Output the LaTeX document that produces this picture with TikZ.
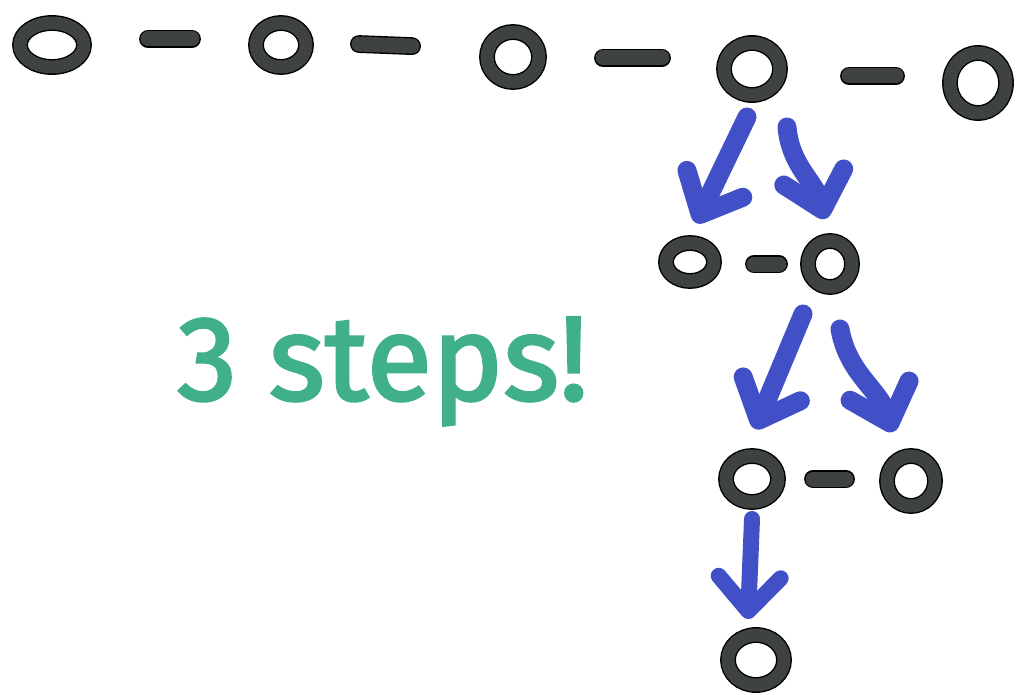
\documentclass[tikz,border=0pt]{standalone}
\usepackage{fontspec}
\newfontfamily\handfont{Fira Sans}[FakeBold=2.2]
\usetikzlibrary{arrows.meta,shapes.geometric}
\definecolor{ink}{RGB}{62,66,66}
\definecolor{marker}{RGB}{66,80,200}
\definecolor{mint}{RGB}{64,176,136}
\begin{document}
\begin{tikzpicture}[x=1pt,y=-1pt,
  ring/.style={ellipse, draw=black, line width=1.4pt, double=ink,
    double distance=13pt, inner sep=0pt, outer sep=0pt},
  link/.style={draw=black, line width=1.4pt, double=ink,
    double distance=15pt, line cap=round},
  push/.style={draw=marker, line width=19pt, line cap=round,
    -{Straight Barb[round,length=34pt,width=62pt]}},
]
\fill[white] (0,0) rectangle (1036,695);
\useasboundingbox (0,0) rectangle (1036,695);

% the full list
\node[ring, minimum width=64pt, minimum height=44pt] (r1) at (52,45) {};
\node[ring, minimum width=50pt, minimum height=44pt] (r2) at (281,45) {};
\node[ring, minimum width=52pt, minimum height=50pt] (r3) at (513,57) {};
\node[ring, minimum width=56pt, minimum height=52pt] (r4) at (752,69) {};
\node[ring, minimum width=56pt, minimum height=60pt] (r5) at (978,83) {};

% second level
\node[ring, minimum width=48pt, minimum height=38pt] (r6) at (690,262) {};
\node[ring, minimum width=44pt, minimum height=46pt] (r7) at (830,264) {};

% third level
\node[ring, minimum width=52pt, minimum height=46pt] (r8) at (752,479) {};
\node[ring, minimum width=48pt, minimum height=50pt] (r9) at (911,481) {};

% last level
\node[ring, minimum width=56pt, minimum height=50pt] (r10) at (756,660) {};

% links between neighbours
\draw[link, shorten <=64pt, shorten >=64pt] ([yshift=6pt]r1.east) -- ([yshift=6pt]r2.west);
\draw[link, shorten <=53pt, shorten >=75pt] ([yshift=3pt]r2.east) -- ([yshift=8pt]r3.west);
\draw[link, shorten <=64pt, shorten >=62pt] ([yshift=-1pt]r3.east) -- ([yshift=11pt]r4.west);
\draw[link, shorten <=69pt, shorten >=54pt] ([yshift=-7pt]r4.east) -- ([yshift=7pt]r5.west);
\draw[link, shorten <=40pt, shorten >=29pt] ([yshift=-2pt]r6.east) -- (r7.west);
\draw[link, shorten <=35pt, shorten >=41pt] (r8.east) -- ([yshift=2pt]r9.west);

% splitting arrows
\draw[push] ([shift={(-5,22)}]r4.south) -- ([shift={(6,-20)}]r6.north);
\draw[push] ([shift={(35,32)}]r4.south) to[out=-85,in=105] ([shift={(-5,-22)}]r7.north);
\draw[push] ([shift={(-27,27)}]r7.south) -- ([shift={(3,-27)}]r8.north);
\draw[push] ([shift={(10,42)}]r7.south) to[out=-80,in=108] ([shift={(-18,-24)}]r9.north);
\draw[push, line width=16pt] ([shift={(0,17)}]r8.south) -- ([shift={(-8,-16)}]r10.north);

% caption
\node[anchor=base west, text=mint, inner sep=0pt,
  font=\fontsize{120}{130}\selectfont\handfont] (caption) at (177,400) {3 steps!};
\end{tikzpicture}
\end{document}
